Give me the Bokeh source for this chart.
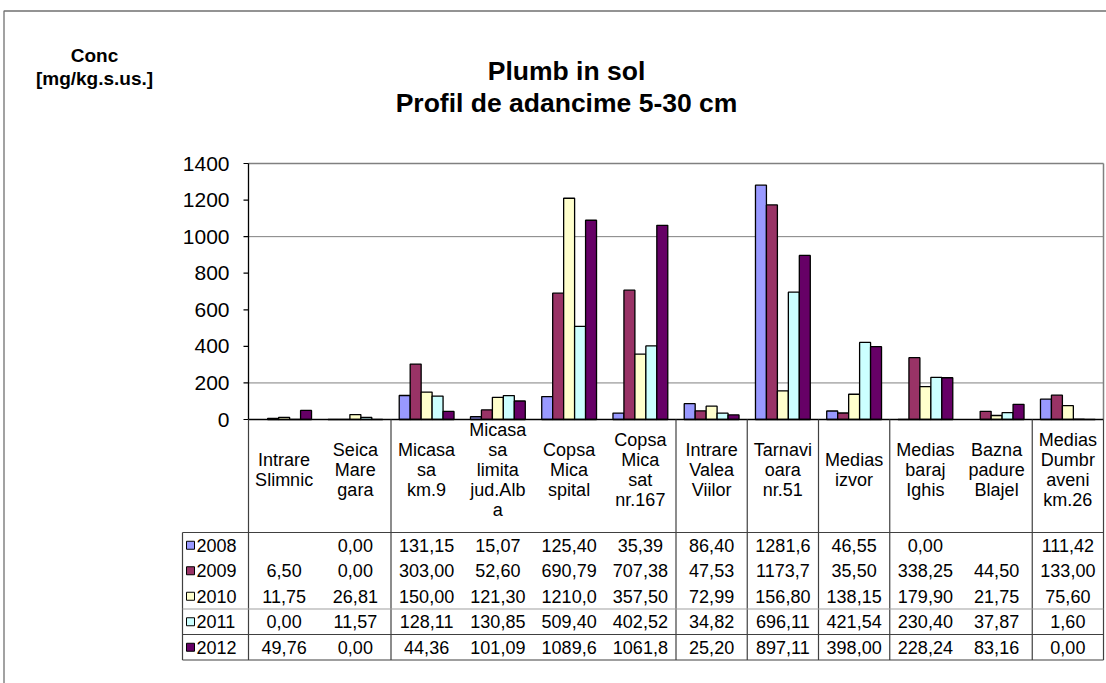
from bokeh.plotting import figure
from bokeh.models import Range1d, ColumnDataSource
from bokeh.core.properties import value
from bokeh.embed import file_html
from bokeh.resources import INLINE

# ---------------- data ----------------
categories = ["Intrare\nSlimnic", "Seica\nMare\ngara", "Micasa\nsa\nkm.9",
              "Micasa\nsa\nlimita\njud.Alb\na", "Copsa\nMica\nspital",
              "Copsa\nMica\nsat\nnr.167", "Intrare\nValea\nViilor",
              "Tarnavi\noara\nnr.51", "Medias\nizvor", "Medias\nbaraj\nIghis",
              "Bazna\npadure\nBlajel", "Medias\nDumbr\naveni\nkm.26"]
years = ["2008", "2009", "2010", "2011", "2012"]
v2008 = [None, 0.00, 131.15, 15.07, 125.40, 35.39, 86.40, 1281.6, 46.55, 0.00, None, 111.42]
v2009 = [6.50, 0.00, 303.00, 52.60, 690.79, 707.38, 47.53, 1173.7, 35.50, 338.25, 44.50, 133.00]
v2010 = [11.75, 26.81, 150.00, 121.30, 1210.0, 357.50, 72.99, 156.80, 138.15, 179.90, 21.75, 75.60]
v2011 = [0.00, 11.57, 128.11, 130.85, 509.40, 402.52, 34.82, 696.11, 421.54, 230.40, 37.87, 1.60]
v2012 = [49.76, 0.00, 44.36, 101.09, 1089.6, 1061.8, 25.20, 897.11, 398.00, 228.24, 83.16, 0.00]
series = [v2008, v2009, v2010, v2011, v2012]
colors = ["#9999FF", "#993366", "#FFFFCC", "#CCFFFF", "#660066"]
yticks = [0, 200, 400, 600, 800, 1000, 1200, 1400]
title_lines = ["Plumb in sol", "Profil de adancime 5-30 cm"]
ylabel_lines = ["Conc", "[mg/kg.s.us.]"]

# ---------------- layout constants (canvas pixels) ----------------
W, H = 1106, 683
PL, PR, PT, PB = 248, 1103, 163, 419
ncat = len(categories)
ymax = 1400
sx = (PR - PL) / ncat
sy = (PB - PT) / ymax
x_start, x_end = -PL / sx, (W - PL) / sx
y_start, y_end = -(H - PB) / sy, ymax + PT / sy

FONT = value("Liberation Sans")

p = figure(width=W, height=H, x_range=Range1d(x_start, x_end),
           y_range=Range1d(y_start, y_end), x_axis_type=None, y_axis_type=None,
           toolbar_location=None, output_backend="svg", min_border=0,
           outline_line_color=None, background_fill_color="white",
           border_fill_color="white")
p.extra_x_ranges = {"px": Range1d(0, W)}
p.extra_y_ranges = {"px": Range1d(H, 0)}

# chart border (left and top)
p.line(x=[3.5, 3.5, W], y=[H, 10.5, 10.5], x_range_name="px", y_range_name="px",
       line_color="#707070", line_width=1.3)

# titles
p.text(x=[566] * 2, y=[70, 102], text=title_lines,
       x_range_name="px", y_range_name="px", text_align="center",
       text_baseline="middle", text_font=FONT, text_font_style="bold",
       text_font_size="26.5px", text_color="black")
p.text(x=[94] * 2, y=[55, 78], text=ylabel_lines,
       x_range_name="px", y_range_name="px", text_align="center",
       text_baseline="middle", text_font=FONT, text_font_style="bold",
       text_font_size="19px", text_color="black")

# gridlines (visible ones) and plot border
grid_vals = [200, 1000]
p.segment(x0=[0] * len(grid_vals), x1=[ncat] * len(grid_vals), y0=grid_vals,
          y1=grid_vals, line_color="#808080", line_width=1)
p.segment(x0=[0, ncat], x1=[ncat, ncat], y0=[ymax, ymax], y1=[ymax, 0],
          line_color="#808080", line_width=1.5)

# bars
nser = len(series)
bw = 1.0 / (nser + 1.5)
for k, (vals, col) in enumerate(zip(series, colors)):
    xs = [i + 0.5 + (k - (nser - 1) / 2) * bw for i, v in enumerate(vals) if v is not None]
    tops = [v for v in vals if v is not None]
    src = ColumnDataSource(dict(x=xs, top=tops))
    p.vbar(x="x", top="top", bottom=0, width=bw, source=src, fill_color=col,
           line_color="black", line_width=1.3)

# axes lines
p.segment(x0=[0], x1=[ncat], y0=[0], y1=[0], line_color="black", line_width=1.3)
p.segment(x0=[0], x1=[0], y0=[ymax], y1=[0], line_color="black", line_width=1.3)
# y ticks and labels
p.segment(x0=[-5 / sx] * len(yticks), x1=[0] * len(yticks), y0=yticks, y1=yticks,
          line_color="black", line_width=1.2)
p.text(x=[229] * len(yticks), y=yticks, text=[str(t) for t in yticks],
       x_range_name="px", text_align="right", text_baseline="middle",
       text_font=FONT, text_font_size="21px", text_color="black")

# category labels area and data table
LAB_TOP, LAB_MID, TAB_TOP, ROW_H = 419, 469, 532, 25.5
TAB_BOT = TAB_TOP + ROW_H * nser
TAB_LEFT = 182
centers = [i + 0.5 for i in range(ncat)]
p.text(x=centers, y=[LAB_MID] * ncat, text=categories,
       y_range_name="px", text_align="center", text_baseline="middle",
       text_font=FONT, text_font_size="18px", text_line_height=1.0,
       text_color="black")

# vertical separators (as drawn in the reference)
bounds = [0, 2, 6, 7, 8, 9, 11, 12]
p.segment(x0=bounds, x1=bounds, y0=[LAB_TOP] * len(bounds), y1=[TAB_BOT] * len(bounds),
          y_range_name="px", line_color="#404040", line_width=1.2)
p.segment(x0=[TAB_LEFT], x1=[TAB_LEFT], y0=[TAB_TOP], y1=[TAB_BOT],
          x_range_name="px", y_range_name="px", line_color="#404040", line_width=1.2)
# horizontal table lines
hl = [TAB_TOP, TAB_TOP + 3 * ROW_H, TAB_TOP + 4 * ROW_H, TAB_BOT]
hc = ["#404040", "#A0A0A0", "#404040", "#404040"]
p.segment(x0=[TAB_LEFT] * 4, x1=[PR] * 4, y0=hl, y1=hl, x_range_name="px",
          y_range_name="px", line_color=hc, line_width=1.2)

# legend keys and year labels
row_c = [TAB_TOP + ROW_H * (r + 0.5) for r in range(nser)]
p.rect(x=[190] * nser, y=row_c, width=8, height=8, x_range_name="px",
       y_range_name="px", fill_color=colors, line_color="black", line_width=1)
p.text(x=[196] * nser, y=row_c, text=years, x_range_name="px",
       y_range_name="px", text_align="left", text_baseline="middle",
       text_font=FONT, text_font_size="18px", text_color="black")

# table values
def fmt(v):
    return "" if v is None else ("%.2f" % v).replace(".", ",")[:6]

tx, ty, tt = [], [], []
for r, vals in enumerate(series):
    for i, v in enumerate(vals):
        tx.append(i + 0.5)
        ty.append(row_c[r])
        tt.append(fmt(v))
p.text(x=tx, y=ty, text=tt, y_range_name="px", text_align="center",
       text_baseline="middle", text_font=FONT, text_font_size="18px",
       text_color="black")

open("out.html", "w").write(file_html(p, INLINE))
